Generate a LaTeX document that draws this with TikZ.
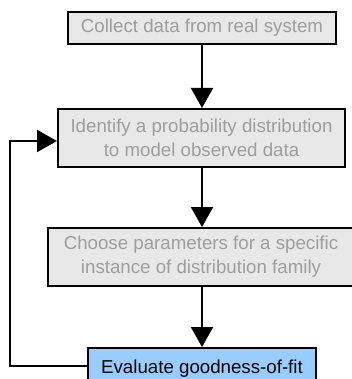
\documentclass[tikz,border=0pt]{standalone}
\usepackage{fontspec}
\setmainfont{Liberation Sans}
\usetikzlibrary{arrows.meta}
\definecolor{boxfill}{HTML}{E8E8E8}
\definecolor{txtgray}{HTML}{9E9E9E}
\definecolor{evalblue}{HTML}{99CCFF}
\begin{document}
\begin{tikzpicture}[x=1pt,y=-1pt,
  stepbox/.style={draw=black,line width=2pt,fill=boxfill,text=txtgray,align=center,
    font=\fontsize{18.7}{24}\selectfont,inner sep=0pt},
  evalbox/.style={stepbox,fill=evalblue,text=black},
  conn/.style={line width=2pt,-{Triangle[width=22pt,length=20pt]}}]
\useasboundingbox (0,0) rectangle (351,379);
\node[stepbox,minimum width=268pt,minimum height=32pt] (b1) at (202,28) {Collect data from real system};
\node[stepbox,minimum width=287pt,minimum height=58pt] (b2) at (201.5,138) {Identify a probability distribution\\to model observed data};
\node[stepbox,minimum width=306pt,minimum height=58pt] (b3) at (201,257) {Choose parameters for a specific\\instance of distribution family};
\node[evalbox,minimum width=228pt,minimum height=36pt,text depth=0pt] (b4) at (202,366) {\raisebox{-2pt}{Evaluate goodness-of-fit}};
\draw[conn] (b1.south) -- (b1.south |- b2.north);
\draw[conn] (b1.south |- b2.south) -- (b1.south |- b3.north);
\draw[conn] (b1.south |- b3.south) -- (b1.south |- b4.north);
\coordinate (c1) at (10,366);
\coordinate (c2) at (10,141);
\draw[conn] (b4.west |- c1) -- (c1) -- (c2) -- (b2.west |- c2);
\end{tikzpicture}
\end{document}
